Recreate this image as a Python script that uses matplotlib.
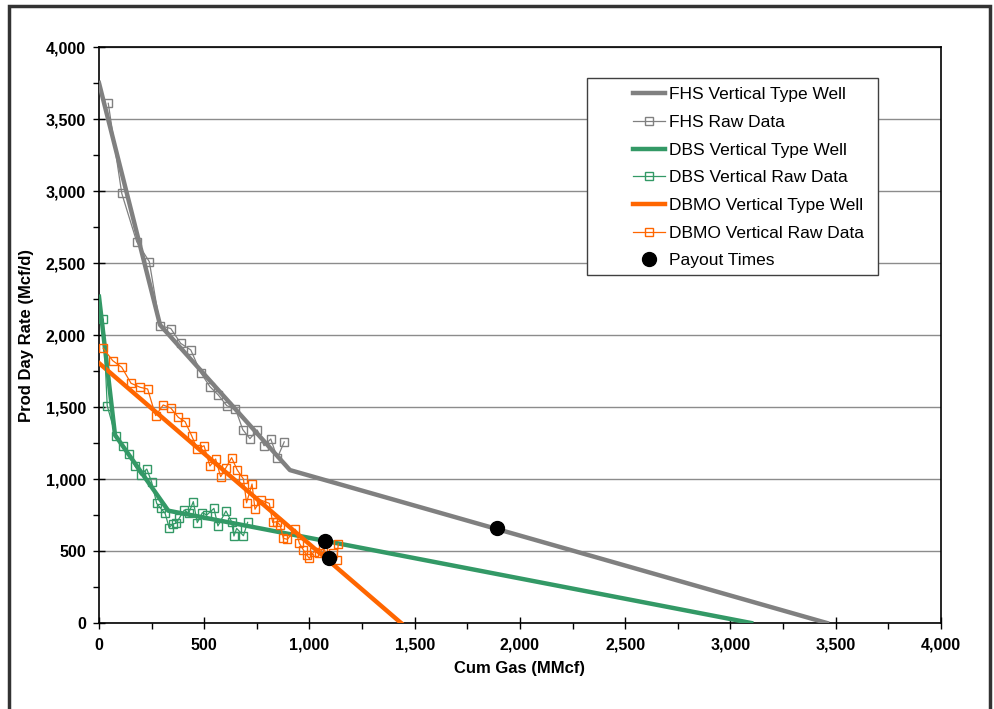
import matplotlib
matplotlib.use('Agg')
import matplotlib.pyplot as plt
from matplotlib.ticker import MultipleLocator, FuncFormatter
from matplotlib.patches import Rectangle

plt.rcParams['font.family'] = ['Liberation Sans', 'DejaVu Sans']

# type well curves (cum gas MMcf, rate Mcf/d)
fhs_type_x = [0, 290, 907, 3458]
fhs_type_y = [3750, 2070, 1062, 0]
dbs_type_x = [0, 76, 329, 3098]
dbs_type_y = [2266, 1306, 780, 0]
dbmo_type_x = [0, 1435]
dbmo_type_y = [1805, 0]

# raw data
fhs_raw_x = [44, 108, 179, 239, 290, 341, 388, 436, 485, 527, 567, 607, 648,
             683, 717, 752, 784, 816, 847, 880]
fhs_raw_y = [3609, 2984, 2648, 2509, 2065, 2045, 1942, 1896, 1734, 1641, 1583,
             1509, 1488, 1343, 1280, 1340, 1231, 1278, 1146, 1258]

dbs_raw_x = [20, 39, 79, 112, 143, 171, 198, 227, 250, 274, 293, 314, 333, 350,
             366, 381, 405, 426, 448, 467, 491, 512, 546, 565, 603, 630, 641,
             654, 686, 706]
dbs_raw_y = [2109, 1509, 1299, 1231, 1171, 1090, 1028, 1069, 979, 831, 796, 762,
             662, 688, 692, 727, 785, 762, 843, 697, 766, 750, 796, 674, 778,
             703, 604, 657, 606, 699]

dbmo_raw_x = [20, 65, 108, 152, 195, 231, 269, 305, 341, 377, 409, 440, 467, 499,
              527, 554, 578, 603, 630, 657, 686, 701, 727, 741, 768, 809, 825,
              844, 860, 876, 895, 933, 952, 971, 987, 999, 1021, 1047, 1066,
              1090, 1113, 1129, 1137]
dbmo_raw_y = [1908, 1822, 1776, 1665, 1637, 1625, 1440, 1514, 1493, 1428, 1398,
              1301, 1208, 1231, 1090, 1139, 1016, 1078, 1148, 1062, 1000, 835,
              965, 790, 854, 831, 699, 703, 681, 588, 581, 651, 553, 507, 472,
              449, 495, 488, 519, 460, 484, 438, 549]

payout_x = [1074, 1093, 1891]
payout_y = [569, 449, 660]

gray = '#808080'
green = '#339966'
orange = '#FF6600'

fig = plt.figure(figsize=(9.95, 7.09), dpi=100)
ax = fig.add_axes([0.0995, 0.1213, 0.8462, 0.8124])

ax.plot(fhs_type_x, fhs_type_y, color=gray, lw=3.2, label='FHS Vertical Type Well', zorder=3)
ax.plot(fhs_raw_x, fhs_raw_y, color=gray, lw=0.9, marker='s', ms=6, mfc='none',
        mec=gray, mew=1.0, label='FHS Raw Data', zorder=4)
ax.plot(dbs_type_x, dbs_type_y, color=green, lw=3.2, label='DBS Vertical Type Well', zorder=3)
ax.plot(dbs_raw_x, dbs_raw_y, color=green, lw=0.9, marker='s', ms=6, mfc='none',
        mec=green, mew=1.0, label='DBS Vertical Raw Data', zorder=4)
ax.plot(dbmo_type_x, dbmo_type_y, color=orange, lw=3.2, label='DBMO Vertical Type Well', zorder=3)
ax.plot(dbmo_raw_x, dbmo_raw_y, color=orange, lw=0.9, marker='s', ms=6, mfc='none',
        mec=orange, mew=1.0, label='DBMO Vertical Raw Data', zorder=4)
ax.plot(payout_x, payout_y, ls='none', marker='o', ms=10, color='black',
        label='Payout Times', zorder=5)

ax.set_xlim(0, 4000)
ax.set_ylim(0, 4000)
ax.xaxis.set_major_locator(MultipleLocator(500))
ax.xaxis.set_minor_locator(MultipleLocator(250))
ax.yaxis.set_major_locator(MultipleLocator(500))
ax.yaxis.set_minor_locator(MultipleLocator(250))
fmt = FuncFormatter(lambda v, p: f'{int(v):,}')
ax.xaxis.set_major_formatter(fmt)
ax.yaxis.set_major_formatter(fmt)

ax.grid(axis='y', which='major', color='#8c8c8c', lw=1.0)
ax.set_axisbelow(True)
for s in ax.spines.values():
    s.set_linewidth(1.2)
    s.set_color('black')

ax.tick_params(which='major', direction='inout', length=9, width=1.0,
               labelsize=11.5, pad=6)
ax.tick_params(which='minor', direction='out', length=4, width=1.0)
ax.tick_params(axis='y', which='major', pad=5)
for lab in ax.get_xticklabels() + ax.get_yticklabels():
    lab.set_fontweight('bold')

ax.set_xlabel('Cum Gas (MMcf)', fontsize=12, fontweight='bold', labelpad=6)
ax.set_ylabel('Prod Day Rate (Mcf/d)', fontsize=12, fontweight='bold', labelpad=8)

# legend box drawn separately, legend entries without frame
ax.add_patch(Rectangle((0.5796, 0.6042), 0.3456, 0.342, transform=ax.transAxes,
                       facecolor='white', edgecolor='#404040', lw=1.0, zorder=6))
leg = ax.legend(loc='upper left', bbox_to_anchor=(0.634, 0.930), fontsize=12.5,
                frameon=False, handlelength=1.85, handletextpad=0.25,
                borderpad=0, labelspacing=0.72, borderaxespad=0)
leg.set_zorder(7)

fig.patches.append(Rectangle((9 / 995, -0.1), 981 / 995, 1.1 - 6 / 709,
                             transform=fig.transFigure, fill=False,
                             edgecolor='#333333', lw=2.5))

fig.savefig('out.png', dpi=100)
